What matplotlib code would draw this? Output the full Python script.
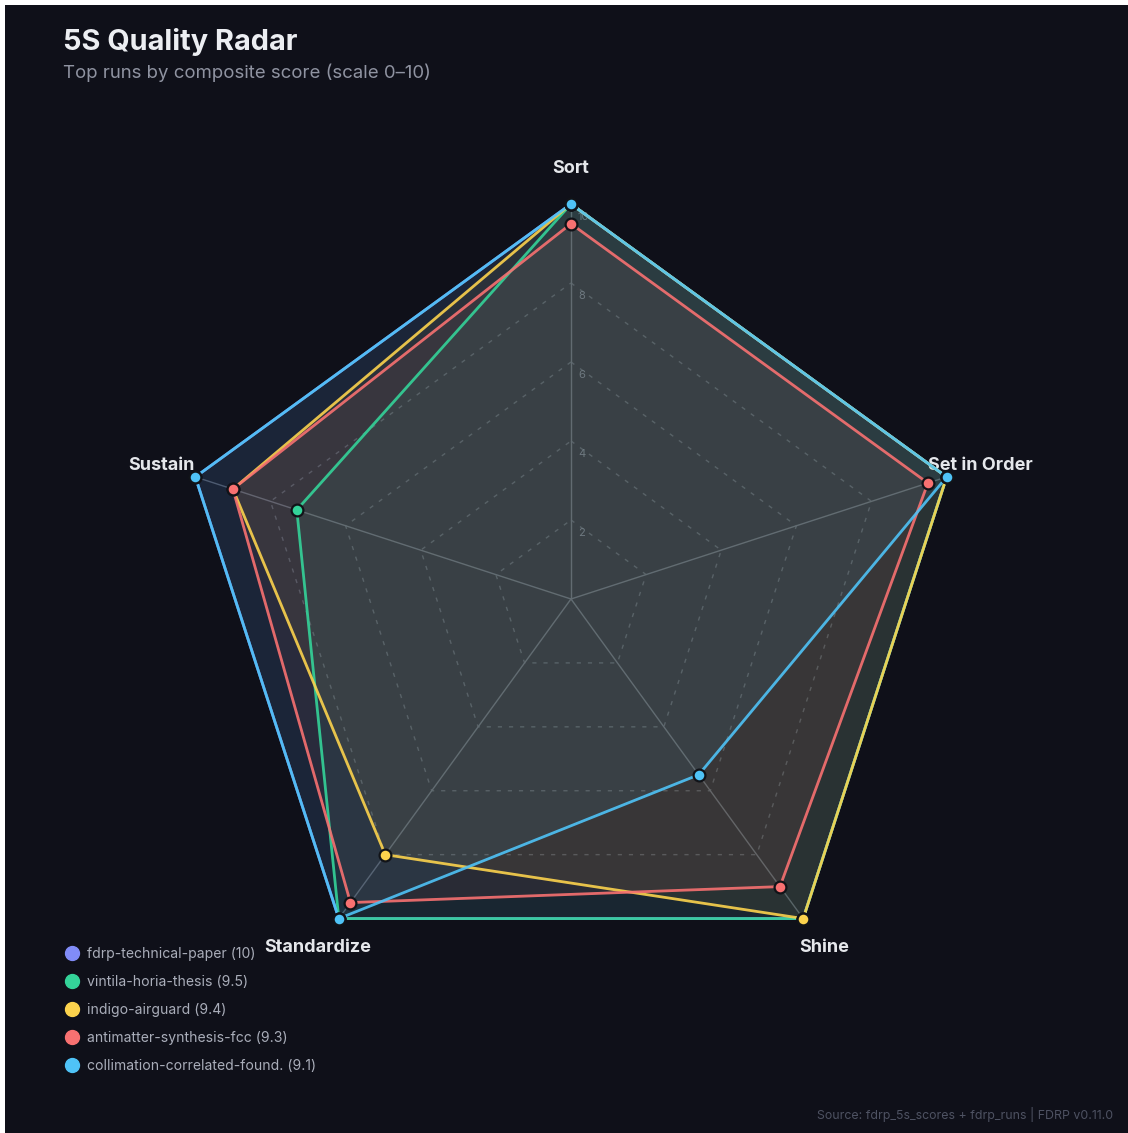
import numpy as np
import matplotlib
matplotlib.use("Agg")
import matplotlib.pyplot as plt
from matplotlib.lines import Line2D
from matplotlib.patches import Rectangle

plt.rcParams['font.family'] = ['Inter', 'DejaVu Sans']

# data
axes_labels = ['Sort', 'Set in Order', 'Shine', 'Standardize', 'Sustain']
run_names = ['fdrp-technical-paper', 'vintila-horia-thesis', 'indigo-airguard',
             'antimatter-synthesis-fcc', 'collimation-correlated-found.']
composite = ['10', '9.5', '9.4', '9.3', '9.1']
fdrp_paper = [10, 10, 10, 10, 10]
vintila = [10, 10, 10, 10, 7.3]
indigo = [10, 10, 10, 8.0, 9.0]
antimatter = [9.5, 9.5, 9.0, 9.5, 9.0]
collimation = [10, 10, 5.5, 10, 10]
series = [fdrp_paper, vintila, indigo, antimatter, collimation]
colors = ['#818cf8', '#34d399', '#fcd34d', '#f87171', '#4fc3f7']
ring_values = [2, 4, 6, 8, 10]

bg = '#0f1019'
W, H = 1128, 1133
fig = plt.figure(figsize=(W / 100, H / 100), dpi=100, facecolor='white')
# dark panel (thin light edge on top/left like the reference)
fig.patches.append(Rectangle((5 / W, 0), 1, 1 - 5 / H, transform=fig.transFigure,
                             facecolor=bg, edgecolor='none', zorder=-10))

cx, cy, R = 571, H - 599, 395
ax = fig.add_axes([(cx - R) / W, (cy - R) / H, 2 * R / W, 2 * R / H], projection='polar')
ax.set_facecolor('none')
ax.set_theta_offset(np.pi / 2)
ax.set_theta_direction(-1)
ax.set_ylim(0, 10)
ax.grid(False)
ax.spines['polar'].set_visible(False)
ax.set_xticks([])
ax.set_yticks([])

n = len(axes_labels)
angles = np.linspace(0, 2 * np.pi, n, endpoint=False)
closed = np.append(angles, angles[0])

# polygon rings
for v in ring_values:
    ax.plot(closed, [v] * (n + 1), color='#3c414d', lw=1, ls=(0, (3, 5)), zorder=1)
    ax.annotate(str(v), xy=(0, v), xytext=(5, -9.5), textcoords='offset points',
                color='#5d6271', fontsize=8, ha='left', va='center', zorder=2)
# spokes
for a in angles:
    ax.plot([a, a], [0, 10], color='#4a4f5c', lw=1, zorder=1)

# axis labels
for a, lab in zip(angles, axes_labels):
    ax.text(a, 10.9, lab, ha='center', va='center', color='#e5e7eb',
            fontsize=13, fontweight='bold', clip_on=False)

handles = []
for vals, c, name, comp in zip(series, colors, run_names, composite):
    v = np.append(vals, vals[0])
    ax.fill(closed, v, color=c, alpha=0.075, zorder=3, lw=0)
    ax.plot(closed, v, color=c, lw=2, alpha=0.9, zorder=4)
    ax.plot(angles, vals, 'o', color=c, ms=8.5, mec='#111318', mew=1.6, zorder=5, clip_on=False)
    handles.append(Line2D([], [], marker='o', ls='none', color=c, ms=10,
                          label=f'{name} ({comp})'))

fig.legend(handles=handles, loc='upper left', bbox_to_anchor=(58 / W, 1 - 940 / H),
           frameon=False, handlelength=1.0, handletextpad=0.6, labelspacing=1.0,
           borderpad=0, fontsize=10.1, labelcolor='#a9adb9')

fig.text(63 / W, 1 - 42 / H, '5S Quality Radar', color='#eceef2', fontsize=20.8,
         fontweight='bold', ha='left', va='center')
fig.text(63 / W, 1 - 73 / H, 'Top runs by composite score (scale 0\u201310)', color='#8f93a1',
         fontsize=13.4, ha='left', va='center')
fig.text(1113 / W, 1 - 1114 / H, 'Source: fdrp_5s_scores + fdrp_runs | FDRP v0.11.0',
         color='#4e5262', fontsize=8.9, ha='right', va='center')

fig.savefig('out.png', dpi=100, facecolor=fig.get_facecolor())
